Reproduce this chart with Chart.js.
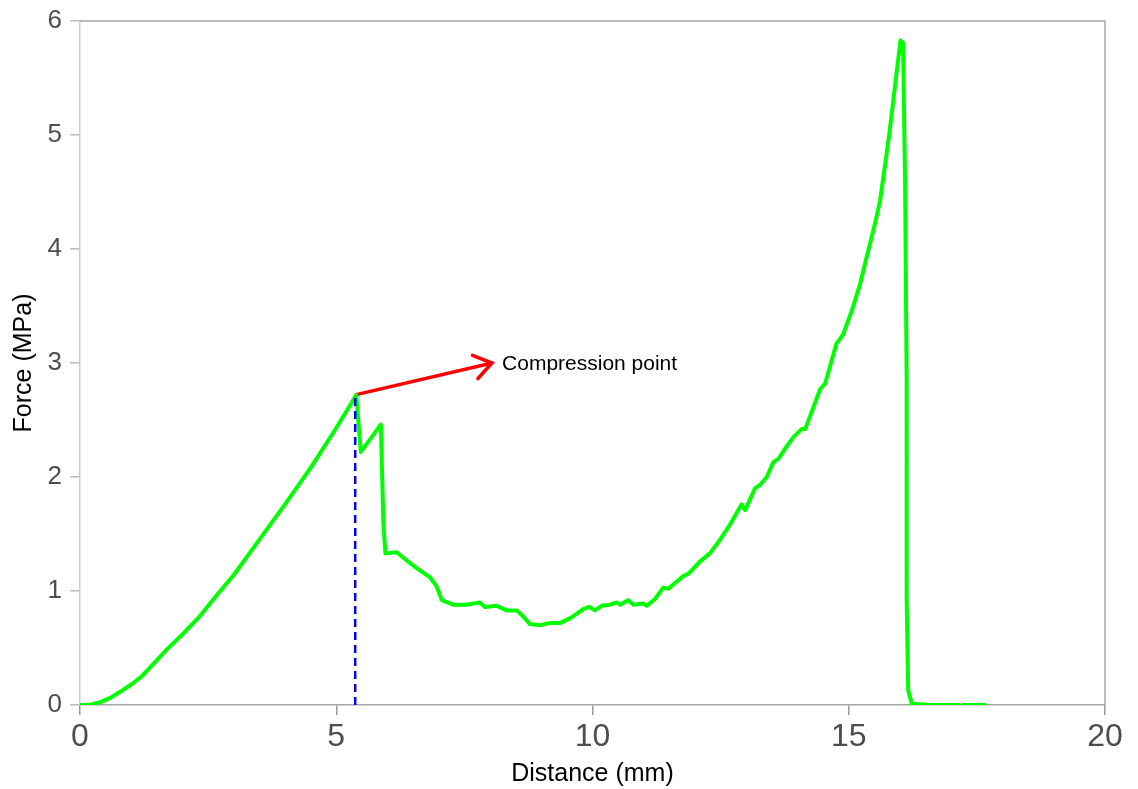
<!DOCTYPE html>
<html>
<head>
<meta charset="utf-8">
<script src="https://cdn.jsdelivr.net/npm/chart.js@4"></script>
<style>
  html, body { margin: 0; padding: 0; background: #fff; }
  #wrap { width: 1138px; height: 789px; }
</style>
</head>
<body>
<div id="wrap"><canvas id="forceChart"></canvas></div>
<script>
// Force vs distance curve
const distance = [0, 0.2, 0.4, 0.6, 0.8, 1, 1.2, 1.37, 1.7, 2, 2.34, 2.7, 3, 3.5, 4, 4.5, 5, 5.39,
    5.48, 5.87, 5.92, 5.96, 6.18, 6.37, 6.57, 6.83, 6.96, 7.06, 7.28, 7.54, 7.80, 7.90,
    8.13, 8.33, 8.52, 8.62, 8.78, 8.98, 9.17, 9.37, 9.56, 9.66, 9.82, 9.94, 10.05, 10.18,
    10.34, 10.47, 10.54, 10.70, 10.80, 10.99, 11.06, 11.22, 11.38, 11.48, 11.61, 11.77,
    11.87, 12.10, 12.29, 12.49, 12.68, 12.91, 12.98, 13.17, 13.27, 13.40, 13.53, 13.63,
    13.76, 13.92, 14.08, 14.15, 14.31, 14.44, 14.54, 14.76, 14.89, 15.06, 15.22, 15.35,
    15.51, 15.61, 15.71, 15.80, 15.90, 16.01, 16.06, 16.10, 16.13, 16.13, 16.16, 16.23,
    16.6, 17.14, 17.18, 17.22, 17.66];
const force = [0, 0.003, 0.025, 0.065, 0.12, 0.18, 0.25, 0.33, 0.49, 0.62, 0.78, 0.98, 1.14, 1.45, 1.76, 2.08, 2.43, 2.72,
    2.22, 2.46, 1.59, 1.33, 1.34, 1.27, 1.20, 1.12, 1.04, 0.92, 0.88, 0.88, 0.90, 0.86,
    0.87, 0.83, 0.83, 0.79, 0.71, 0.70, 0.72, 0.72, 0.76, 0.79, 0.84, 0.86, 0.83, 0.87,
    0.88, 0.90, 0.88, 0.92, 0.88, 0.89, 0.87, 0.93, 1.03, 1.02, 1.07, 1.13,
    1.15, 1.26, 1.33, 1.45, 1.58, 1.76, 1.71, 1.90, 1.93, 2.00, 2.13, 2.16,
    2.25, 2.35, 2.42, 2.42, 2.61, 2.77, 2.82, 3.17, 3.25, 3.46, 3.69, 3.93,
    4.22, 4.42, 4.74, 5.04, 5.42, 5.83, 5.81, 4.54, 2.85, 0.92, 0.13, 0.01,
    0, 0, null, 0, 0];

// compression point marker
const dropX = [5.37, 5.37];
const dropY = [0, 2.72];
const arrowX = [5.37, 8.04];
const arrowY = [2.72, 3.0];
const arrowLabel = 'Compression point';

const xTicks = [0, 5, 10, 15, 20];
const yTicks = [0, 1, 2, 3, 4, 5, 6];

const fontFamily = "Arial, 'Liberation Sans', sans-serif";
const tickColor  = '#4d4d4d';

const toPoints = (xs, ys) => xs.map((x, i) => ({ x, y: ys[i] }));

// frame lines on top/right, arrow head and label
const framePlugin = {
    id: 'frameAndArrow',
    beforeDatasetsDraw(chart) {
        const { ctx, chartArea: a } = chart;
        ctx.save();
        ctx.strokeStyle = '#a6a6a6';
        ctx.lineWidth = 1.5;
        ctx.beginPath();
        ctx.moveTo(a.left, a.top);
        ctx.lineTo(a.right, a.top);
        ctx.lineTo(a.right, a.bottom);
        ctx.stroke();
        ctx.restore();
    },
    afterDatasetsDraw(chart) {
        const { ctx } = chart;
        const pts = chart.getDatasetMeta(2).data;
        const p0 = pts[0], p1 = pts[1];
        const ang = Math.atan2(p1.y - p0.y, p1.x - p0.x);
        const len = 21, spread = Math.PI / 5.2;
        ctx.save();
        ctx.strokeStyle = '#ff0000';
        ctx.lineWidth = 3.5;
        ctx.lineCap = 'round';
        ctx.beginPath();
        ctx.moveTo(p1.x - len * Math.cos(ang - spread), p1.y - len * Math.sin(ang - spread));
        ctx.lineTo(p1.x, p1.y);
        ctx.lineTo(p1.x - len * Math.cos(ang + spread), p1.y - len * Math.sin(ang + spread));
        ctx.stroke();
        ctx.fillStyle = '#000';
        ctx.font = '21px ' + fontFamily;
        ctx.textBaseline = 'middle';
        ctx.fillText(arrowLabel, p1.x + 10, p1.y + 1);
        ctx.restore();
    }
};

new Chart(document.getElementById('forceChart'), {
    type: 'scatter',
    data: {
        datasets: [
            {
                label: 'drop',
                data: toPoints(dropX, dropY),
                showLine: true,
                borderColor: '#0000ff',
                borderWidth: 2.5,
                borderDash: [8, 5],
                pointRadius: 0
            },
            {
                label: 'Force',
                data: toPoints(distance, force),
                showLine: true,
                spanGaps: false,
                borderColor: '#00ff00',
                borderWidth: 4,
                borderJoinStyle: 'round',
                borderCapStyle: 'round',
                pointRadius: 0,
                tension: 0
            },
            {
                label: 'arrow',
                data: toPoints(arrowX, arrowY),
                showLine: true,
                borderColor: '#ff0000',
                borderWidth: 3.5,
                pointRadius: 0
            }
        ]
    },
    options: {
        responsive: true,
        maintainAspectRatio: false,
        animation: false,
        layout: { padding: { left: 0, top: 20, right: 33, bottom: 0 } },
        plugins: { legend: { display: false }, tooltip: { enabled: false } },
        scales: {
            x: {
                type: 'linear',
                min: 0, max: 20,
                afterFit: s => { s.height = 84; },
                afterBuildTicks: s => { s.ticks = xTicks.map(v => ({ value: v })); },
                grid: { drawOnChartArea: false, drawTicks: true, tickLength: 10, color: '#999', lineWidth: 1.5 },
                border: { display: true, color: '#a6a6a6', width: 1.5 },
                ticks: { color: tickColor, padding: 3, maxRotation: 0, font: { size: 32, family: fontFamily } },
                title: {
                    display: true, text: 'Distance (mm)', color: '#000',
                    font: { size: 25, family: fontFamily, lineHeight: 1 },
                    padding: { top: 0, bottom: 2 }
                }
            },
            y: {
                type: 'linear',
                min: 0, max: 6,
                afterFit: s => { s.width = 80; },
                afterBuildTicks: s => { s.ticks = yTicks.map(v => ({ value: v })); },
                grid: { drawOnChartArea: false, drawTicks: true, tickLength: 10, color: '#bbb', lineWidth: 1.5 },
                border: { display: true, color: '#cccccc', width: 1.5 },
                ticks: { color: tickColor, padding: 8, font: { size: 26, family: fontFamily, lineHeight: 1 } },
                title: {
                    display: true, text: 'Force (MPa)', color: '#000',
                    font: { size: 25, family: fontFamily, lineHeight: 1 },
                    padding: { top: 12, bottom: 0 }
                }
            }
        }
    },
    plugins: [framePlugin]
});
</script>
</body>
</html>
